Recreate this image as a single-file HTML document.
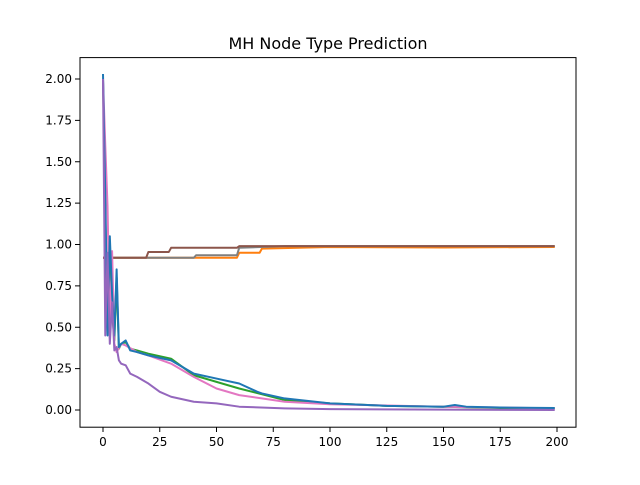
<!DOCTYPE html>
<html><head><meta charset="utf-8"><style>
body{margin:0;background:#fff}
svg{font-family:"DejaVu Sans","Liberation Sans",sans-serif}
</style></head><body>
<svg id="chart" width="640" height="480">
<rect width="640" height="480" fill="#fff"/>
<text x="328" y="49" text-anchor="middle" font-size="16">MH Node Type Prediction</text>
<g id="plot"></g>
<rect x="80" y="57.6" width="496" height="369.6" fill="none" stroke="#000" stroke-width="1"/>
<g id="axes"></g>
</svg>
<script>
const xTicks=[0,25,50,75,100,125,150,175,200];
const yTicks=[0,0.25,0.5,0.75,1.0,1.25,1.5,1.75,2.0];
const brownX=[0,19,20,29,30,59,60,199];
const brownY=[0.92,0.92,0.955,0.955,0.98,0.98,0.99,0.99];
const grayX=[0,40,41,59,60,80,199];
const grayY=[0.92,0.92,0.935,0.935,0.98,0.99,0.99];
const orangeX=[0,59,60,69,70,100,150,199];
const orangeY=[0.92,0.92,0.95,0.95,0.975,0.985,0.982,0.985];
const blueX=[0,1,2,3,4,5,6,7,8,10,12,15,20,30,40,50,60,68,70,80,100,125,150,155,160,175,199];
const blueY=[2.03,1.3,0.45,1.05,0.7,0.45,0.85,0.38,0.4,0.42,0.36,0.35,0.33,0.30,0.22,0.19,0.16,0.11,0.1,0.07,0.04,0.025,0.02,0.03,0.02,0.015,0.012];
const greenX=[0,1,2,3,4,5,6,7,8,10,12,15,20,30,40,50,60,80,100,125,150,175,199];
const greenY=[2.0,1.2,0.5,1.0,0.6,0.42,0.8,0.37,0.4,0.41,0.37,0.36,0.34,0.31,0.21,0.17,0.13,0.06,0.04,0.025,0.02,0.012,0.01];
const pinkX=[0,1,2,3,4,5,6,8,10,15,20,30,40,50,60,80,100,150,199];
const pinkY=[2.0,1.6,1.23,0.5,0.96,0.4,0.35,0.4,0.39,0.35,0.33,0.28,0.2,0.13,0.09,0.05,0.035,0.02,0.01];
const purpleX=[0,1,2,3,4,5,6,7,8,10,12,15,20,25,30,40,50,60,80,100,150,199];
const purpleY=[2.0,0.45,0.95,0.4,0.65,0.36,0.38,0.3,0.28,0.27,0.22,0.2,0.16,0.11,0.08,0.05,0.04,0.02,0.01,0.005,0.002,0.0];
const seriesList=[
 ['orange',orangeX,orangeY,'#ff7f0e'],['gray',grayX,grayY,'#7f7f7f'],['brown',brownX,brownY,'#8c564b'],
 ['green',greenX,greenY,'#2ca02c'],['pink',pinkX,pinkY,'#e377c2'],['blue',blueX,blueY,'#1f77b4'],['purple',purpleX,purpleY,'#9467bd']];
const sx=v=>103+v*(557-103)/200;
const sy=v=>410-v*(410-79)/2;
const NS='http://www.w3.org/2000/svg';
const plot=document.getElementById('plot'),axes=document.getElementById('axes');
seriesList.forEach(s=>{
 const p=document.createElementNS(NS,'polyline');
 p.setAttribute('points',s[1].map((x,i)=>sx(x)+','+sy(s[2][i])).join(' '));
 p.setAttribute('fill','none');p.setAttribute('stroke',s[3]);p.setAttribute('stroke-width','2');
 p.setAttribute('stroke-linejoin','round');
 
 
 plot.appendChild(p);
});
xTicks.forEach(t=>{
 const l=document.createElementNS(NS,'line');
 l.setAttribute('x1',sx(t));l.setAttribute('x2',sx(t));l.setAttribute('y1',427.2);l.setAttribute('y2',432);l.setAttribute('stroke','#000');
 
 
 axes.appendChild(l);
 const tx=document.createElementNS(NS,'text');
 tx.setAttribute('x',sx(t));tx.setAttribute('y',446);tx.setAttribute('text-anchor','middle');tx.setAttribute('font-size','12');
 tx.textContent=t;
 
 
 axes.appendChild(tx);
});
yTicks.forEach(t=>{
 const l=document.createElementNS(NS,'line');
 l.setAttribute('x1',75);l.setAttribute('x2',80);l.setAttribute('y1',sy(t));l.setAttribute('y2',sy(t));l.setAttribute('stroke','#000');
 
 
 axes.appendChild(l);
 const tx=document.createElementNS(NS,'text');
 tx.setAttribute('x',72);tx.setAttribute('y',sy(t)+4);tx.setAttribute('text-anchor','end');tx.setAttribute('font-size','12');
 tx.textContent=t.toFixed(2);
 
 
 axes.appendChild(tx);
});
</script>
</body></html>
